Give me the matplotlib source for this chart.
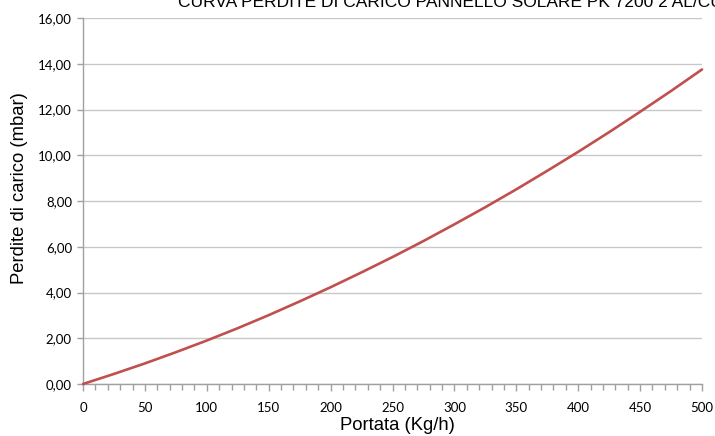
import matplotlib
matplotlib.use("Agg")
import matplotlib.pyplot as plt
from matplotlib.ticker import MultipleLocator, FuncFormatter

portata = [0, 25, 50, 75, 100, 125, 150, 175, 200, 225, 250, 275, 300, 325, 350, 375, 400, 425, 450, 475, 500]
perdite = [0.0, 0.44, 0.90, 1.39, 1.90, 2.44, 3.01, 3.61, 4.23, 4.88, 5.55, 6.25, 6.98, 7.73, 8.51, 9.32, 10.15, 11.01, 11.90, 12.81, 13.75]
title = "CURVA PERDITE DI CARICO PANNELLO SOLARE PK 7200 2 AL/CU"
xlabel = "Portata (Kg/h)"
ylabel = "Perdite di carico (mbar)"

W, H = 715, 436
fig = plt.figure(figsize=(W / 100, H / 100), dpi=100)
ax = fig.add_axes([83 / W, (H - 384) / H, (702 - 83) / W, (384 - 18) / H])

ax.plot(portata, perdite, color="#C0504D", lw=1.9, solid_capstyle="round", solid_joinstyle="round", zorder=3, clip_on=False)
ax.set_xlim(0, 500)
ax.set_ylim(0, 16)
ax.xaxis.set_major_locator(MultipleLocator(50))
ax.xaxis.set_minor_locator(MultipleLocator(10))
ax.yaxis.set_major_locator(MultipleLocator(2))
ax.yaxis.set_major_formatter(FuncFormatter(lambda v, p: f"{v:.2f}".replace(".", ",")))
ax.xaxis.set_major_formatter(FuncFormatter(lambda v, p: f"{int(v)}"))

ax.grid(axis="y", color="#c8c8c8", lw=1.0)
ax.set_axisbelow(True)
for s in ["top", "right"]:
    ax.spines[s].set_visible(False)
for s in ["left", "bottom"]:
    ax.spines[s].set_color("#a0a0a0")
    ax.spines[s].set_linewidth(1.0)

ax.tick_params(axis="both", which="both", color="#a0a0a0", direction="out", width=1.0)
ax.tick_params(axis="x", which="major", length=5, pad=8)
ax.tick_params(axis="x", which="minor", length=4)
ax.tick_params(axis="y", which="major", length=4, pad=4)
for lab in ax.get_xticklabels() + ax.get_yticklabels():
    lab.set_fontfamily(["Lato", "DejaVu Sans"])
    lab.set_fontsize(9.5)
    lab.set_color("#000000")

ax.set_xlabel(xlabel, fontsize=13.3, family=["Liberation Sans", "DejaVu Sans"])
ax.set_ylabel(ylabel, fontsize=13.3, family=["Liberation Sans", "DejaVu Sans"])
ax.xaxis.set_label_coords((397 - 83) / 619, -(417 - 384) / 366)
ax.yaxis.set_label_coords((28 - 83) / 619, (384 - 188) / 366)

fig.text(178 / W, 1 - 7 / H, title, fontsize=12.5, family=["Liberation Sans", "DejaVu Sans"],
         ha="left", va="baseline")

fig.savefig("out.png", dpi=100)
